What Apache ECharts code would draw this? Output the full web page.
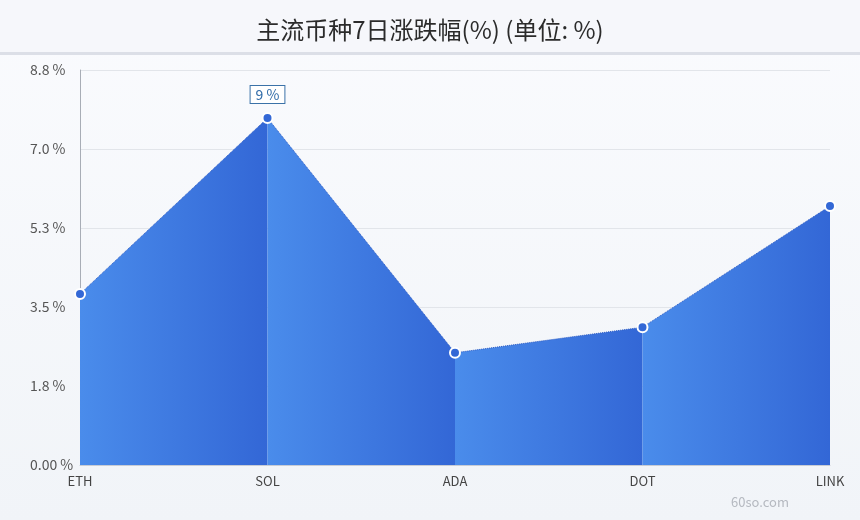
<!DOCTYPE html>
<html><head><meta charset="utf-8">
<script src="https://cdn.jsdelivr.net/npm/echarts@6/dist/echarts.min.js"></script>
<style>html,body{margin:0;padding:0;}#c{width:860px;height:520px;}</style>
</head><body><div id="c"></div>
<script>
const categories = ['ETH', 'SOL', 'ADA', 'DOT', 'LINK'];
const values = [3.81, 7.73, 2.50, 3.07, 5.77];
const pointLabels = ['', '9 %', '', '', ''];
const yTickLabels = ['0.00 %', '1.8 %', '3.5 %', '5.3 %', '7.0 %', '8.8 %'];
const yMax = 8.8;
const yInterval = 1.76;

const font = '"Noto Sans CJK SC", "Noto Sans", sans-serif';
const chart = echarts.init(document.getElementById('c'));

const segSeries = [];
for (let i = 0; i < values.length - 1; i++) {
  const d = values.map((v, j) => (j === i || j === i + 1) ? v : null);
  segSeries.push({
    type: 'line', data: d, symbol: 'none', silent: true,
    lineStyle: { width: 0 },
    areaStyle: {
      opacity: 1,
      color: new echarts.graphic.LinearGradient(0, 0, 1, 0, [
        { offset: 0, color: '#4a8ceb' },
        { offset: 1, color: '#3367d6' }
      ])
    },
    z: 2
  });
}

const markerData = values.map((v, i) => ({
  value: v,
  label: { show: pointLabels[i] !== '' }
}));

chart.setOption({
  backgroundColor: new echarts.graphic.LinearGradient(0, 0, 0, 1, [
    { offset: 0, color: '#fafbfe' },
    { offset: 1, color: '#f1f4f8' }
  ]),
  animation: false,
  graphic: [
    { type: 'rect', shape: { x: 0, y: 0, width: 860, height: 52 }, style: { fill: '#f6f7fb' }, z: -1 },
    { type: 'rect', shape: { x: 0, y: 52, width: 860, height: 3 }, style: { fill: '#dcdfe7' }, z: -1 },
    { type: 'text', right: 71, top: 496, style: { text: '60so.com', fill: '#b5b9c0', font: '13px ' + font } }
  ],
  title: {
    text: '主流币种7日涨跌幅(%) (单位: %)', left: 'center', top: 13,
    textStyle: { fontFamily: font, fontSize: 24, fontWeight: 'normal', color: '#2b2b2b' }
  },
  grid: { left: 80, right: 30, top: 70, bottom: 55 },
  xAxis: {
    type: 'category', data: categories, boundaryGap: false,
    axisLine: { show: true, lineStyle: { color: '#c8ccd4' } },
    axisTick: { show: false },
    axisLabel: { color: '#444', fontFamily: font, fontSize: 13, margin: 10 },
    splitLine: { show: false }
  },
  yAxis: {
    type: 'value', min: 0, max: yMax, interval: yInterval,
    axisLine: { show: true, lineStyle: { color: '#a8adb6' } },
    axisTick: { show: false },
    axisLabel: {
      color: '#555', fontFamily: font, fontSize: 14, margin: 50, align: 'left',
      formatter: v => yTickLabels[Math.round(v / yInterval)]
    },
    splitLine: { lineStyle: { color: '#e2e5ea' } }
  },
  series: segSeries.concat([{
    type: 'line', data: markerData, z: 5,
    symbol: 'circle', symbolSize: 10,
    itemStyle: { color: '#3368d6', borderColor: '#ffffff', borderWidth: 2 },
    lineStyle: { width: 1, type: 'dotted', color: '#2d5cc4' },
    label: {
      show: false, position: 'top', distance: 9,
      formatter: p => pointLabels[p.dataIndex],
      color: '#2e6aa8', fontFamily: font, fontSize: 14,
      backgroundColor: '#ffffff', borderColor: '#3b72a8', borderWidth: 1,
      padding: [2, 5, 1, 5]
    }
  }])
});
</script></body></html>
